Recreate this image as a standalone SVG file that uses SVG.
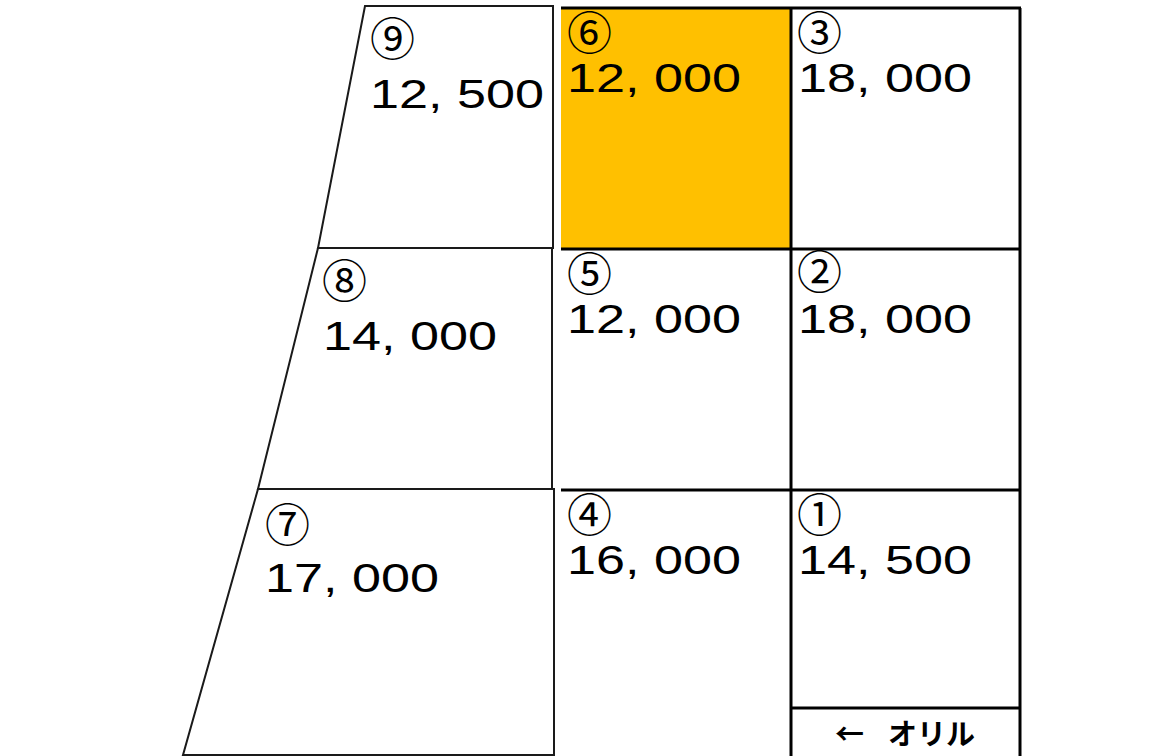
<svg xmlns="http://www.w3.org/2000/svg" width="1151" height="756" viewBox="0 0 1151 756">
<style>
.trap{fill:#fff;stroke:#1a1a1a;stroke-width:2}
.grid{stroke:#000;stroke-width:3;fill:none}
.num{font-family:"Liberation Sans",Arial,sans-serif;font-size:40px;fill:#000}
.cir{font-family:"Noto Sans CJK JP",sans-serif;font-size:45px;font-weight:normal;fill:#000}
.lbl{font-family:"Noto Sans CJK JP",sans-serif;font-size:29px;font-weight:bold;fill:#000}
</style>
<rect width="1151" height="756" fill="#fff"/>
<g id="lot9">
<polygon class="trap" points="365,6 553,6 553,248 318,248"/>
<text class="cir" x="370" y="56">⑨</text>
<text class="num" x="370" y="108" textLength="174" lengthAdjust="spacingAndGlyphs">12, 500</text>
</g>
<g id="lot8">
<polygon class="trap" points="318,248 552,248 552,489 258,489"/>
<text class="cir" x="322" y="298">⑧</text>
<text class="num" x="323" y="350" textLength="174" lengthAdjust="spacingAndGlyphs">14, 000</text>
</g>
<g id="lot7">
<polygon class="trap" points="258,489 554,489 554,755 183,755"/>
<text class="cir" x="265" y="542">⑦</text>
<text class="num" x="265" y="592" textLength="174" lengthAdjust="spacingAndGlyphs">17, 000</text>
</g>
<g id="lot6">
<rect x="561" y="8" width="229" height="241" fill="#FFC000"/>
<text class="cir" x="567" y="50">⑥</text>
<text class="num" x="567" y="92" textLength="174" lengthAdjust="spacingAndGlyphs">12, 000</text>
</g>
<g id="lot3">
<text class="cir" x="797" y="50">③</text>
<text class="num" x="798" y="92" textLength="174" lengthAdjust="spacingAndGlyphs">18, 000</text>
</g>
<g id="lot5">
<text class="cir" x="567" y="291">⑤</text>
<text class="num" x="567" y="333" textLength="174" lengthAdjust="spacingAndGlyphs">12, 000</text>
</g>
<g id="lot2">
<text class="cir" x="797" y="289">②</text>
<text class="num" x="798" y="333" textLength="174" lengthAdjust="spacingAndGlyphs">18, 000</text>
</g>
<g id="lot4">
<text class="cir" x="567" y="532">④</text>
<text class="num" x="567" y="574" textLength="174" lengthAdjust="spacingAndGlyphs">16, 000</text>
</g>
<g id="lot1">
<text class="cir" x="797" y="532">①</text>
<text class="num" x="798" y="574" textLength="174" lengthAdjust="spacingAndGlyphs">14, 500</text>
</g>
<g id="exit">
<text class="lbl" y="745"><tspan x="835">← </tspan><tspan x="888">オリル</tspan></text>
</g>
<g id="connectors">
<path class="grid" d="M561,8H1021M791,8V756M1020,8V756M561,249H1021M561,490H1021M791,708H1021"/>
</g>
</svg>
